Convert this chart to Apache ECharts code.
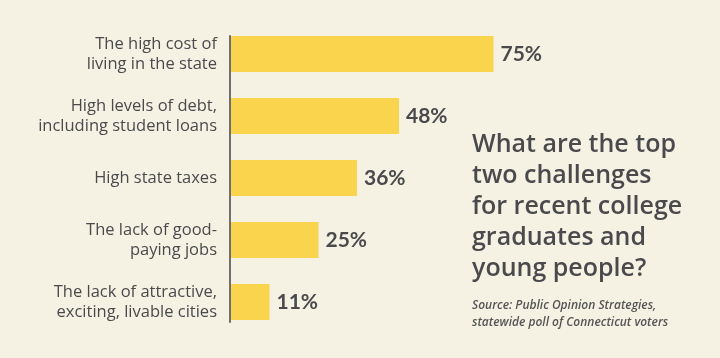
<!DOCTYPE html>
<html>
<head>
<meta charset="utf-8">
<script src="https://cdn.jsdelivr.net/npm/echarts@6/dist/echarts.min.js"></script>
<style>
html,body{margin:0;padding:0;background:#f5f2e4;}
#chart{width:720px;height:358px;}
</style>
</head>
<body>
<div id="chart"></div>
<script>
const categories = [
  "The high cost of\nliving in the state",
  "High levels of debt,\nincluding student loans",
  "High state taxes",
  "The lack of good-\npaying jobs",
  "The lack of attractive,\nexciting, livable cities"
];
const values = [75, 48, 36, 25, 11];
const titleText = "What are the top\ntwo challenges\nfor recent college\ngraduates and\nyoung people?";
const sourceText = "Source: Public Opinion Strategies,\nstatewide poll of Connecticut voters";

const FONT = "Lato, 'Open Sans', sans-serif";
const FONT2 = "'Open Sans', sans-serif";
const chart = echarts.init(document.getElementById('chart'), null, {renderer: 'canvas'});
chart.setOption({
  backgroundColor: '#f5f2e4',
  animation: false,
  title: [
    {text: titleText, left: 467, top: 124,
     textStyle: {fontFamily: FONT2, fontSize: 25, fontWeight: 600, color: '#4a4a4c', lineHeight: 31}},
    {text: sourceText, left: 467, top: 292,
     textStyle: {fontFamily: FONT2, fontSize: 12, fontStyle: 'italic', fontWeight: 600, color: '#555', lineHeight: 17}}
  ],
  grid: [
    {left: 231, top: 23, width: 350, height: 310, containLabel: false},
    {left: 229.5, top: 36, width: 1, height: 286}
  ],
  xAxis: [
    {type: 'value', min: 0, max: 100, show: false, gridIndex: 0},
    {type: 'value', show: false, gridIndex: 1}
  ],
  yAxis: [
    {type: 'category', data: categories, inverse: true, gridIndex: 0,
     axisLine: {show: false}, axisTick: {show: false},
     axisLabel: {fontFamily: FONT2, fontSize: 16.5, fontWeight: 500, color: '#4a4a4c', lineHeight: 20, margin: 14, align: 'right'}},
    {type: 'value', gridIndex: 1, min: 0, max: 1,
     axisLine: {show: true, lineStyle: {color: '#6f6f6f', width: 2}},
     axisTick: {show: false}, axisLabel: {show: false}, splitLine: {show: false}}
  ],
  series: [{
    type: 'bar', data: values, barWidth: 36, xAxisIndex: 0, yAxisIndex: 0,
    itemStyle: {color: '#f9d44c'},
    label: {show: true, position: 'right', distance: 7, formatter: '{c}%',
      fontFamily: FONT, fontSize: 21, fontWeight: 'bold', color: '#4a4a4c'}
  }]
});
</script>
</body>
</html>
